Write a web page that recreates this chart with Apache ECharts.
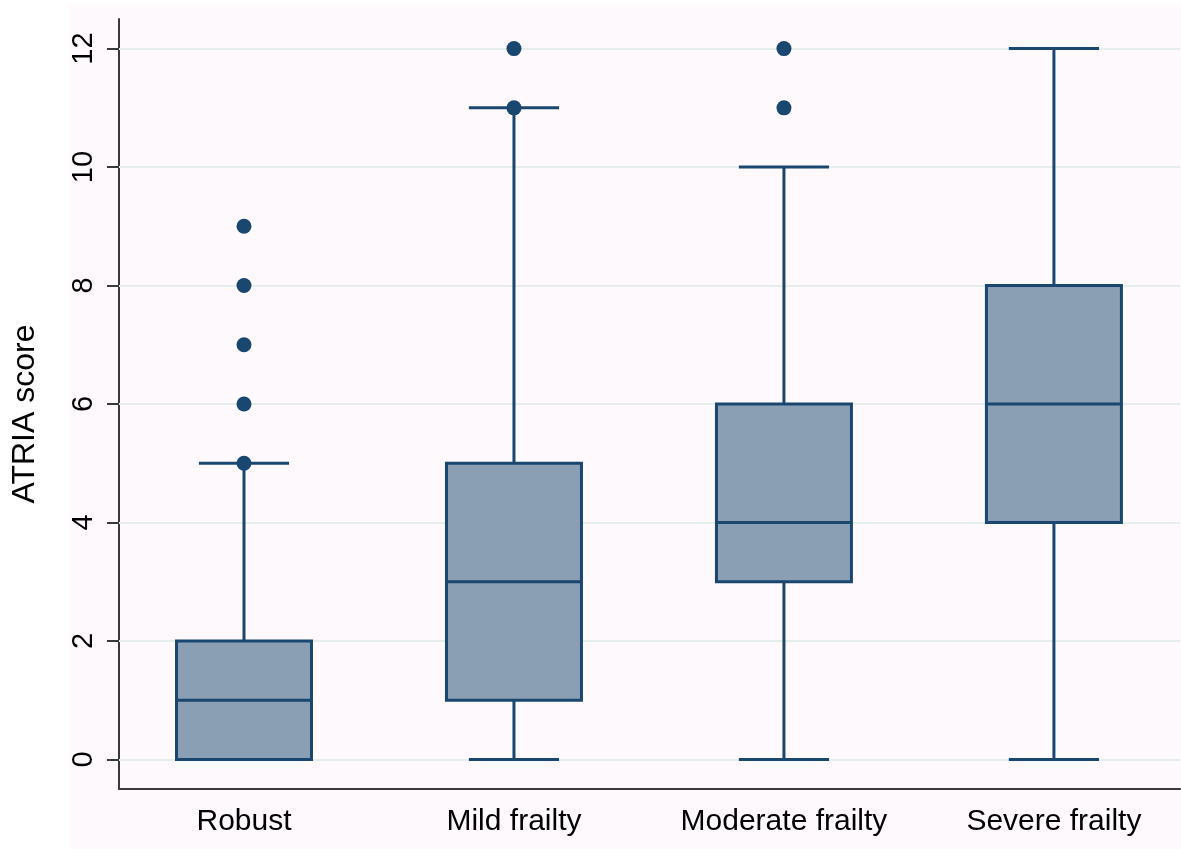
<!DOCTYPE html>
<html>
<head>
<meta charset="utf-8">
<title>ATRIA score by frailty status</title>
<script src="https://cdn.jsdelivr.net/npm/echarts@6/dist/echarts.min.js"></script>
<style>
  html, body { margin: 0; padding: 0; background: #ffffff; }
  #chart { width: 1181px; height: 849px; }
</style>
</head>
<body>
<div id="chart"></div>
<script>
// Frailty groups along the x axis (positions 1..4)
const categories = ['Robust', 'Mild frailty', 'Moderate frailty', 'Severe frailty'];
const positions = [1, 2, 3, 4];

// Box summaries per group
const whiskerLow = [0, 0, 0, 0];
const quartile1 = [0, 1, 3, 4];
const medians = [1, 3, 4, 6];
const quartile3 = [2, 5, 6, 8];
const whiskerHigh = [5, 11, 10, 12];

// Outside values per group
const outliers = [
  [5, 6, 7, 8, 9],
  [11, 12],
  [11, 12],
  []
];

// Y axis tick values
const yTicks = [0, 2, 4, 6, 8, 10, 12];

const NAVY = '#1a476f';
const FILL = '#8a9fb4';

const boxData = positions.map((p, i) => [p, whiskerLow[i], quartile1[i], medians[i], quartile3[i], whiskerHigh[i]]);
const outlierData = [];
outliers.forEach((vals, i) => vals.forEach(v => outlierData.push([positions[i], v])));

function renderBox(params, api) {
  const x = api.value(0);
  const lo = api.value(1), q1 = api.value(2), med = api.value(3), q3 = api.value(4), hi = api.value(5);
  const halfBox = api.size([0.25, 0])[0];
  const halfCap = api.size([0.167, 0])[0];
  const c = (v) => api.coord([x, v]);
  const pLo = c(lo), pQ1 = c(q1), pMed = c(med), pQ3 = c(q3), pHi = c(hi);
  const line = { stroke: NAVY, lineWidth: 3, fill: null };
  const children = [];
  if (hi > q3) {
    children.push({ type: 'line', shape: { x1: pHi[0], y1: pHi[1], x2: pQ3[0], y2: pQ3[1] }, style: line });
    children.push({ type: 'line', shape: { x1: pHi[0] - halfCap, y1: pHi[1], x2: pHi[0] + halfCap, y2: pHi[1] }, style: line });
  }
  if (lo < q1) {
    children.push({ type: 'line', shape: { x1: pLo[0], y1: pLo[1], x2: pQ1[0], y2: pQ1[1] }, style: line });
    children.push({ type: 'line', shape: { x1: pLo[0] - halfCap, y1: pLo[1], x2: pLo[0] + halfCap, y2: pLo[1] }, style: line });
  }
  children.push({
    type: 'rect',
    shape: { x: pQ3[0] - halfBox, y: pQ3[1], width: halfBox * 2, height: pQ1[1] - pQ3[1] },
    style: { fill: FILL, stroke: NAVY, lineWidth: 3 }
  });
  children.push({ type: 'line', shape: { x1: pMed[0] - halfBox, y1: pMed[1], x2: pMed[0] + halfBox, y2: pMed[1] }, style: line });
  return { type: 'group', children };
}

const chart = echarts.init(document.getElementById('chart'), null, { renderer: 'canvas' });

chart.setOption({
  backgroundColor: '#ffffff',
  animation: false,
  textStyle: { fontFamily: 'Liberation Sans, Arial, sans-serif' },
  graphic: [{
    type: 'rect', z: -10, silent: true,
    shape: { x: 69, y: 5, width: 1112, height: 844 },
    style: { fill: '#fdf9fd' }
  }],
  grid: { left: 119, top: 19, right: 1, bottom: 60, containLabel: false },
  xAxis: {
    type: 'value',
    min: 0.537,
    max: 4.467,
    axisLine: { show: true, onZero: false, lineStyle: { color: '#3a3a3a', width: 2 } },
    axisTick: { show: false },
    splitLine: { show: false },
    axisLabel: {
      customValues: positions,
      formatter: (v) => categories[Math.round(v) - 1] || '',
      color: '#000',
      fontSize: 30,
      margin: 18,
      fontFamily: 'Liberation Sans, Arial, sans-serif'
    }
  },
  yAxis: {
    type: 'value',
    min: -0.5,
    max: 12.5,
    name: 'ATRIA score',
    nameLocation: 'middle',
    nameRotate: 90,
    nameGap: 78,
    nameTextStyle: {
      color: '#000', fontSize: 32, fontFamily: 'Liberation Sans, Arial, sans-serif',
      padding: [0, 20, 0, 0]
    },
    axisLine: { show: true, onZero: false, lineStyle: { color: '#3a3a3a', width: 2 } },
    axisTick: { show: true, customValues: yTicks, length: 12, lineStyle: { color: '#3a3a3a', width: 2 } },
    axisLabel: {
      customValues: yTicks,
      rotate: 90,
      color: '#000',
      fontSize: 29,
      margin: 21,
      fontFamily: 'Liberation Sans, Arial, sans-serif'
    },
    splitLine: { show: false }
  },
  series: [
    {
      type: 'line',
      data: [],
      silent: true,
      z: 1,
      markLine: {
        silent: true,
        symbol: 'none',
        z: 1,
        label: { show: false },
        lineStyle: { color: '#e6eded', width: 2, type: 'solid' },
        data: yTicks.map(v => ({ yAxis: v }))
      }
    },
    {
      type: 'custom',
      renderItem: renderBox,
      data: boxData,
      encode: { x: 0, y: [1, 2, 3, 4, 5] },
      clip: false,
      z: 3
    },
    {
      type: 'scatter',
      data: outlierData,
      symbol: 'circle',
      symbolSize: 15,
      itemStyle: { color: NAVY, opacity: 1 },
      z: 5
    }
  ]
});
</script>
</body>
</html>
